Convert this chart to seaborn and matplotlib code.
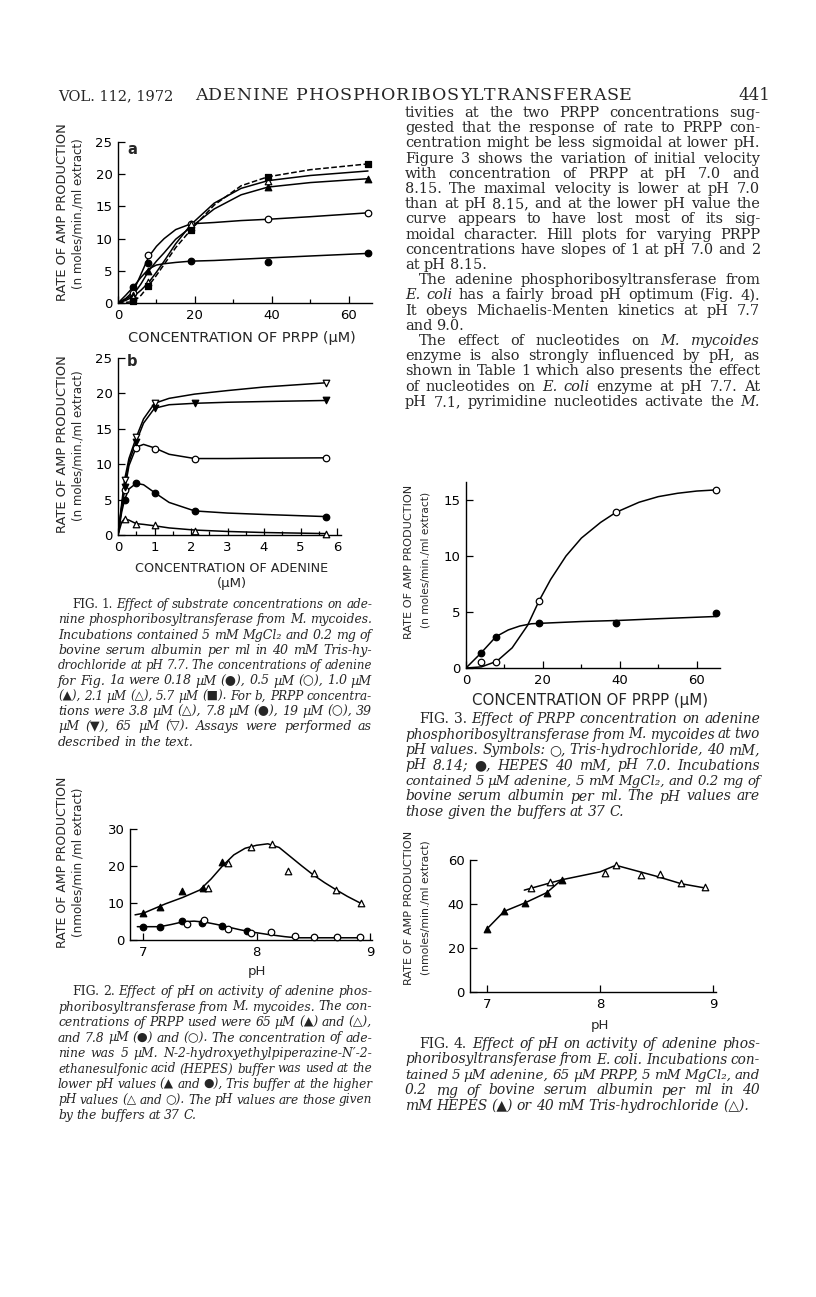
import matplotlib
matplotlib.use("Agg")
import matplotlib.pyplot as plt
from matplotlib.ticker import MultipleLocator
import seaborn as sns
import numpy as np

W, H = 816, 1297

# ---------------- values ----------------
# Fig. 1a : rate vs PRPP (uM) at five adenine levels
prpp = [3.8, 7.8, 19, 39, 65]
f1a_ade018 = [2.5, 6.2, 6.5, 6.4, 7.7]      # filled circles
f1a_ade05 = [1.6, 7.4, 12.3, 13.0, 14.0]    # open circles
f1a_ade10 = [1.3, 5.0, 11.8, 18.0, 19.3]    # filled triangles
f1a_ade21 = [1.0, 3.2, 12.2, 19.0]          # open triangles (none drawn at 65)
f1a_ade57 = [0.3, 2.7, 11.4, 19.6, 21.6]    # filled squares (dashed curve)
# hand drawn curves
f1a_cx = [0, 2, 4, 6, 8, 10, 12, 15, 19, 25, 32, 39, 50, 65]
f1a_c018 = [0, 1.2, 2.5, 4.0, 5.3, 5.9, 6.1, 6.3, 6.5, 6.6, 6.8, 7.0, 7.3, 7.7]
f1a_c05 = [0, 0.7, 1.8, 4.5, 7.2, 8.8, 10.0, 11.4, 12.3, 12.5, 12.8, 13.0, 13.4, 14.0]
f1a_c10 = [0, 0.6, 1.3, 3.0, 5.0, 6.5, 7.8, 9.9, 11.8, 14.6, 16.8, 18.0, 18.7, 19.3]
f1a_c21 = [0, 0.4, 1.0, 2.0, 3.2, 4.8, 6.5, 9.2, 12.2, 15.5, 17.8, 19.0, 19.8, 20.5]
f1a_c57 = [0, 0.1, 0.2, 1.2, 2.7, 4.3, 6.0, 8.6, 11.4, 15.2, 18.2, 19.6, 20.7, 21.6]

# Fig. 1b : rate vs adenine (uM) at five PRPP levels
adenine = [0.18, 0.5, 1.0, 2.1, 5.7]
f1b_prpp38 = [2.2, 1.5, 1.4, 0.6, 0.2]      # open triangles
f1b_prpp78 = [5.0, 7.3, 6.0, 3.4, 2.6]      # filled circles
f1b_prpp19 = [6.3, 12.3, 12.2, 10.7, 10.9]  # open circles
f1b_prpp39 = [6.8, 13.2, 17.9, 18.6, 19.0]  # filled down triangles
adenine_65 = [0.18, 0.5, 1.0, 5.7]
f1b_prpp65 = [7.8, 13.8, 18.6, 21.5]        # open down triangles
f1b_cx = [0, 0.1, 0.18, 0.3, 0.5, 0.7, 1.0, 1.4, 2.1, 3, 4, 5.7]
f1b_c38 = [0, 1.8, 2.3, 2.1, 1.6, 1.5, 1.3, 1.0, 0.7, 0.5, 0.35, 0.2]
f1b_c78 = [0, 3.2, 5.0, 6.5, 7.3, 7.1, 6.0, 4.6, 3.4, 3.1, 2.9, 2.6]
f1b_c19 = [0, 3.8, 6.3, 9.8, 12.4, 12.8, 12.3, 11.4, 10.8, 10.8, 10.85, 10.9]
f1b_c39 = [0, 4.0, 6.8, 10.3, 13.2, 15.8, 17.9, 18.4, 18.6, 18.75, 18.85, 19.0]
f1b_c65 = [0, 4.4, 7.8, 10.8, 13.8, 16.4, 18.6, 19.3, 19.9, 20.4, 20.9, 21.5]

# Fig. 2 : rate vs pH, M. mycoides
f2_ph_hepes65 = [7.0, 7.15, 7.34, 7.53, 7.70]
f2_hepes65 = [7.2, 9.0, 13.2, 14.0, 21.0]
f2_ph_tris65 = [7.57, 7.75, 7.95, 8.14, 8.28, 8.51, 8.70, 8.92]
f2_tris65 = [14.0, 20.8, 25.2, 25.9, 18.7, 18.2, 13.6, 9.9]
f2_ph_hepes78 = [7.0, 7.15, 7.34, 7.52, 7.70, 7.92]
f2_hepes78 = [3.6, 3.6, 5.1, 4.7, 3.8, 2.5]
f2_ph_tris78 = [7.39, 7.54, 7.75, 7.95, 8.13, 8.34, 8.51, 8.71, 8.91]
f2_tris78 = [4.2, 5.3, 3.0, 1.9, 2.1, 1.0, 0.8, 0.8, 0.9]
f2_c65x = [6.93, 7.0, 7.1, 7.2, 7.35, 7.5, 7.6, 7.7, 7.8, 7.9, 8.0, 8.1, 8.2,
           8.3, 8.4, 8.5, 8.6, 8.7, 8.8, 8.92]
f2_c65 = [6.8, 7.2, 8.5, 9.8, 11.5, 13.5, 16.5, 20.0, 23.0, 24.8, 25.6, 26.0,
          25.0, 22.5, 20.0, 17.6, 15.5, 13.6, 11.8, 9.9]
f2_c78x = [6.95, 7.0, 7.15, 7.25, 7.35, 7.45, 7.55, 7.65, 7.75, 7.85, 7.95,
           8.1, 8.25, 8.35, 8.5, 8.7, 8.9]
f2_c78 = [3.6, 3.6, 3.6, 4.2, 4.9, 5.1, 4.8, 4.2, 3.5, 2.8, 2.2, 1.5, 0.9,
          0.6, 0.6, 0.6, 0.6]

# Fig. 3 : rate vs PRPP at two pH values
f3_tris = [0.5, 0.5, 6.0, 13.9, 15.9]       # open circles, pH 8.14
f3_hepes = [1.3, 2.8, 4.0, 4.0, 4.9]        # filled circles, pH 7.0
f3_ctx = [0, 4, 8, 12, 16, 19, 22, 26, 30, 35, 39, 45, 50, 55, 60, 65]
f3_ct = [0, 0.1, 0.6, 1.8, 3.8, 6.0, 7.9, 10.0, 11.6, 13.0, 13.9, 14.8,
         15.3, 15.6, 15.8, 15.9]
f3_chx = [0, 3.8, 7.8, 11, 14, 17, 20, 30, 40, 50, 65]
f3_ch = [0, 1.3, 2.8, 3.4, 3.75, 3.95, 4.0, 4.15, 4.25, 4.4, 4.6]

# Fig. 4 : rate vs pH, E. coli
f4_ph_hepes = [7.0, 7.15, 7.34, 7.53, 7.66]
f4_hepes = [28.7, 36.6, 40.6, 45.2, 51.0]
f4_ph_tris = [7.39, 7.56, 8.04, 8.14, 8.36, 8.53, 8.72, 8.93]
f4_tris = [47.4, 49.8, 54.2, 57.8, 53.0, 53.5, 49.7, 47.6]
f4_ctx = [7.33, 7.56, 7.66, 8.0, 8.14, 8.5, 8.72, 8.95]
f4_ct = [46.3, 49.6, 51.0, 54.6, 57.6, 52.6, 49.2, 47.1]

# ---------------- text ----------------
header = ["VOL. 112, 1972", "ADENINE PHOSPHORIBOSYLTRANSFERASE", "441"]
body = [
    "tivities at the two PRPP concentrations sug-",
    "gested that the response of rate to PRPP con-",
    "centration might be less sigmoidal at lower pH.",
    "Figure 3 shows the variation of initial velocity",
    "with concentration of PRPP at pH 7.0 and",
    "8.15. The maximal velocity is lower at pH 7.0",
    "than at pH 8.15, and at the lower pH value the",
    "curve appears to have lost most of its sig-",
    "moidal character. Hill plots for varying PRPP",
    "concentrations have slopes of 1 at pH 7.0 and 2",
    "at pH 8.15.",
    "The adenine phosphoribosyltransferase from",
    "_E. _coli has a fairly broad pH optimum (Fig. 4).",
    "It obeys Michaelis-Menten kinetics at pH 7.7",
    "and 9.0.",
    "The effect of nucleotides on _M. _mycoides",
    "enzyme is also strongly influenced by pH, as",
    "shown in Table 1 which also presents the effect",
    "of nucleotides on _E. _coli enzyme at pH 7.7. At",
    "pH 7.1, pyrimidine nucleotides activate the _M.",
]
cap1 = [
    "~FIG. ~1. Effect of substrate concentrations on ade-",
    "nine phosphoribosyltransferase from M. mycoides.",
    "Incubations contained 5 mM MgCl₂ and 0.2 mg of",
    "bovine serum albumin per ml in 40 mM Tris-hy-",
    "drochloride at pH 7.7. The concentrations of adenine",
    "for Fig. 1a were 0.18 µM (●), 0.5 µM (○), 1.0 µM",
    "(▲), 2.1 µM (△), 5.7 µM (■). For b, PRPP concentra-",
    "tions were 3.8 µM (△), 7.8 µM (●), 19 µM (○), 39",
    "µM (▼), 65 µM (▽). Assays were performed as",
    "described in the text.",
]
cap2 = [
    "~FIG. ~2. Effect of pH on activity of adenine phos-",
    "phoribosyltransferase from M. mycoides. The con-",
    "centrations of PRPP used were 65 µM (▲) and (△),",
    "and 7.8 µM (●) and (○). The concentration of ade-",
    "nine was 5 µM. N-2-hydroxyethylpiperazine-N′-2-",
    "ethanesulfonic acid (HEPES) buffer was used at the",
    "lower pH values (▲ and ●), Tris buffer at the higher",
    "pH values (△ and ○). The pH values are those given",
    "by the buffers at 37 C.",
]
cap3 = [
    "~FIG. ~3. Effect of PRPP concentration on adenine",
    "phosphoribosyltransferase from M. mycoides at two",
    "pH values. Symbols: ○, Tris-hydrochloride, 40 mM,",
    "pH 8.14; ●, HEPES 40 mM, pH 7.0. Incubations",
    "contained 5 µM adenine, 5 mM MgCl₂, and 0.2 mg of",
    "bovine serum albumin per ml. The pH values are",
    "those given the buffers at 37 C.",
]
cap4 = [
    "~FIG. ~4. Effect of pH on activity of adenine phos-",
    "phoribosyltransferase from E. coli. Incubations con-",
    "tained 5 µM adenine, 65 µM PRPP, 5 mM MgCl₂, and",
    "0.2 mg of bovine serum albumin per ml in 40",
    "mM HEPES (▲) or 40 mM Tris-hydrochloride (△).",
]
ylab = "RATE OF AMP PRODUCTION"
ylab2 = "(n moles/min./ml extract)"
ylab2_f2 = "(nmoles/min /ml extract)"
ylab2_f4 = "(nmoles/min./ml extract)"

# ---------------- drawing ----------------
sns.set_theme(style="ticks", rc={"axes.edgecolor": "black", "xtick.color": "black",
                                 "ytick.color": "black", "axes.linewidth": 1.0})
SANS = ["DejaVu Sans"]
SERIF = ["DejaVu Serif", "DejaVu Sans"]

fig = plt.figure(figsize=(W / 100, H / 100), dpi=100)
fig.patch.set_facecolor("white")
renderer = fig.canvas.get_renderer()


def put(x, y, s, size, **kw):
    return fig.text(x / W, 1 - y / H, s, fontsize=size, **kw)


def fit(x, y, s, length, size, vertical=False, **kw):
    t = put(x, y, s, size, rotation=90 if vertical else 0, ha="center", va="center", **kw)
    bb = t.get_window_extent(renderer)
    t.set_fontsize(size * length / (bb.height if vertical else bb.width))
    return t


def spread(x0, x1, y, s, size, **kw):
    # slightly letter-spaced line (running head)
    objs = [put(0, 0, c, size, va="baseline", **kw) for c in s]
    ws = [t.get_window_extent(renderer).width if c != " " else size * 0.45 for t, c in zip(objs, s)]
    gap = max((x1 - x0 - sum(ws)) / (len(s) - 1), 0)
    x = x0
    for t, wd in zip(objs, ws):
        t.set_position((x / W, 1 - y / H))
        x += wd + gap


def words_of(line, size, italic):
    objs = []
    for w in line.split(" "):
        st = "italic" if italic else "normal"
        if w.startswith("~"):
            w, st = w[1:], "normal"
        elif w.startswith("_"):
            w, st = w[1:], "italic"
        objs.append(put(0, 0, w, size, fontstyle=st, family=SERIF, va="baseline"))
    return objs


def block(lines, x0, x1, y0, dy, italic, indents=(), ragged=(), indent=14, base=9.0, scale=1.0):
    # one font size for the whole block so justified lines are filled
    ratios = []
    for i, line in enumerate(lines):
        if i in ragged:
            continue
        objs = words_of(line, base, italic)
        ws = [t.get_window_extent(renderer).width for t in objs]
        nat = sum(ws) + 0.28 * base * 1.389 * (len(ws) - 1)
        ratios.append((x1 - x0 - (indent if i in indents else 0)) / nat)
        for t in objs:
            t.remove()
    size = base * float(np.median(ratios)) * scale
    for i, line in enumerate(lines):
        left = x0 + (indent if i in indents else 0)
        sz = size
        objs = words_of(line, sz, italic)
        widths = [t.get_window_extent(renderer).width for t in objs]
        space = 0.28 * sz * 1.389
        nat = sum(widths) + space * (len(objs) - 1)
        if i not in ragged and nat > x1 - left:
            sz = sz * (x1 - left) / nat
            for t in objs:
                t.set_fontsize(sz)
            widths = [t.get_window_extent(renderer).width for t in objs]
        if i in ragged:
            gap = space
        else:
            gap = (x1 - left - sum(widths)) / max(len(objs) - 1, 1)
        x = left
        for t, wd in zip(objs, widths):
            t.set_position((x / W, 1 - (y0 + i * dy) / H))
            x += wd + gap


def axes_at(xcal, xlim, ycal, ylim):
    (xa, pa), (xb, pb) = xcal
    sx = (pb - pa) / (xb - xa)
    left, right = pa + (xlim[0] - xa) * sx, pa + (xlim[1] - xa) * sx
    (ya, qa), (yb, qb) = ycal
    sy = (qb - qa) / (yb - ya)
    bottom, top = qa + (ylim[0] - ya) * sy, qa + (ylim[1] - ya) * sy
    ax = fig.add_axes([left / W, 1 - bottom / H, (right - left) / W, (bottom - top) / H])
    ax.set_xlim(xlim)
    ax.set_ylim(ylim)
    ax.patch.set_alpha(0)
    sns.despine(ax=ax)
    ax.tick_params(which="both", direction="in", width=0.9, labelsize=9.5, pad=4)
    ax.tick_params(which="major", length=5)
    ax.tick_params(which="minor", length=3)
    return ax


def curve(ax, x, y, ls="-"):
    sns.lineplot(x=x, y=y, ax=ax, color="black", lw=1.1, linestyle=ls,
                 sort=False, estimator=None)


def pts(ax, x, y, marker, filled, s=22):
    sns.scatterplot(x=x, y=y, ax=ax, marker=marker, s=s,
                    color="black" if filled else "white", edgecolor="black",
                    linewidth=0.9, zorder=4, clip_on=False)


def finish(ax, xt, yt, xminor=None):
    ax.set_xticks(xt)
    ax.set_yticks(yt)
    if xminor:
        ax.xaxis.set_minor_locator(MultipleLocator(xminor))
    ax.set_xlabel("")
    ax.set_ylabel("")
    for lab in ax.get_xticklabels() + ax.get_yticklabels():
        lab.set_family(SANS)


# running head
put(58, 100, header[0], 10.5, family=SERIF, va="baseline")
spread(195, 632, 100, header[1], 12.5, family=SERIF)
put(770, 100, header[2], 12, family=SERIF, va="baseline", ha="right")

# ---- Fig 1a
ax = axes_at(((0, 118), (65, 368)), (0, 66), ((0, 303), (25, 142)), (0, 25))
for yy, ls in [(f1a_c018, "-"), (f1a_c05, "-"), (f1a_c10, "-"), (f1a_c21, "-"), (f1a_c57, "--")]:
    curve(ax, f1a_cx, yy, ls)
pts(ax, prpp, f1a_ade018, "o", True)
pts(ax, prpp, f1a_ade05, "o", False)
pts(ax, prpp, f1a_ade10, "^", True)
pts(ax, prpp[:4], f1a_ade21, "^", False)
pts(ax, prpp, f1a_ade57, "s", True)
finish(ax, [0, 20, 40, 60], [0, 5, 10, 15, 20, 25], 10)
put(127, 149, "a", 10.5, family=SANS, weight="bold", va="center")
fit(242, 338, "CONCENTRATION OF PRPP (µM)", 228, 9, family=SANS)
fit(63, 212, ylab, 178, 9, vertical=True, family=SANS)
fit(78, 214, ylab2, 150, 8, vertical=True, family=SANS)

# ---- Fig 1b
ax = axes_at(((0, 118), (6, 337)), (0, 6.1), ((0, 535), (25, 358)), (0, 25))
for yy in [f1b_c38, f1b_c78, f1b_c19, f1b_c39, f1b_c65]:
    curve(ax, f1b_cx, yy)
pts(ax, adenine, f1b_prpp38, "^", False)
pts(ax, adenine, f1b_prpp78, "o", True)
pts(ax, adenine, f1b_prpp19, "o", False)
pts(ax, adenine, f1b_prpp39, "v", True)
pts(ax, adenine_65, f1b_prpp65, "v", False)
finish(ax, [0, 1, 2, 3, 4, 5, 6], [0, 5, 10, 15, 20, 25], 0.5)
put(127, 362, "b", 10.5, family=SANS, weight="bold", va="center")
fit(232, 568, "CONCENTRATION OF ADENINE", 193, 9, family=SANS)
fit(232, 583, "(µM)", 30, 9, family=SANS)
fit(63, 444, ylab, 178, 9, vertical=True, family=SANS)
fit(78, 446, ylab2, 150, 8, vertical=True, family=SANS)

block(cap1, 58, 372, 608, 15.3, True, indents=(0,), ragged=(9,))

# ---- Fig 2
ax = axes_at(((7, 143), (9, 370)), (6.885, 9.02), ((0, 940), (30, 829)), (0, 30))
curve(ax, f2_c65x, f2_c65)
curve(ax, f2_c78x, f2_c78)
pts(ax, f2_ph_hepes65, f2_hepes65, "^", True)
pts(ax, f2_ph_tris65, f2_tris65, "^", False)
pts(ax, f2_ph_hepes78, f2_hepes78, "o", True)
pts(ax, f2_ph_tris78, f2_tris78, "o", False)
finish(ax, [7, 8, 9], [0, 10, 20, 30])
put(257, 971, "pH", 9.5, family=SANS, ha="center", va="center")
fit(63, 862, ylab, 172, 9, vertical=True, family=SANS)
fit(78, 862, ylab2_f2, 150, 8, vertical=True, family=SANS)

block(cap2, 58, 372, 995, 15.5, True, indents=(0,), ragged=(8,))

# ---- right column text
block(body, 405, 760, 117, 15.2, False, indents=(11, 15), ragged=(10, 14), scale=0.93)

# ---- Fig 3
ax = axes_at(((0, 466), (65, 716)), (0, 66), ((0, 668), (15, 500)), (0, 16.6))
curve(ax, f3_ctx, f3_ct)
curve(ax, f3_chx, f3_ch)
pts(ax, prpp, f3_tris, "o", False)
pts(ax, prpp, f3_hepes, "o", True)
finish(ax, [0, 20, 40, 60], [0, 5, 10, 15], 10)
fit(590, 701, "CONCENTRATION OF PRPP (µM)", 236, 9, family=SANS)
fit(409, 562, ylab, 155, 9, vertical=True, family=SANS)
fit(425, 560, ylab2, 136, 8, vertical=True, family=SANS)

block(cap3, 405, 760, 723, 15.5, True, indents=(0,), ragged=(6,))

# ---- Fig 4
ax = axes_at(((7, 487), (9, 713)), (6.85, 9.03), ((0, 992), (60, 860)), (0, 60))
curve(ax, f4_ph_hepes, f4_hepes)
curve(ax, f4_ctx, f4_ct)
pts(ax, f4_ph_hepes, f4_hepes, "^", True)
pts(ax, f4_ph_tris, f4_tris, "^", False)
finish(ax, [7, 8, 9], [0, 20, 40, 60])
put(600, 1025, "pH", 9.5, family=SANS, ha="center", va="center")
fit(409, 908, ylab, 155, 9, vertical=True, family=SANS)
fit(425, 908, ylab2_f4, 136, 8, vertical=True, family=SANS)

block(cap4, 405, 760, 1048, 15.5, True, indents=(0,), ragged=(4,))

fig.savefig("out.png", dpi=100, facecolor="white")
